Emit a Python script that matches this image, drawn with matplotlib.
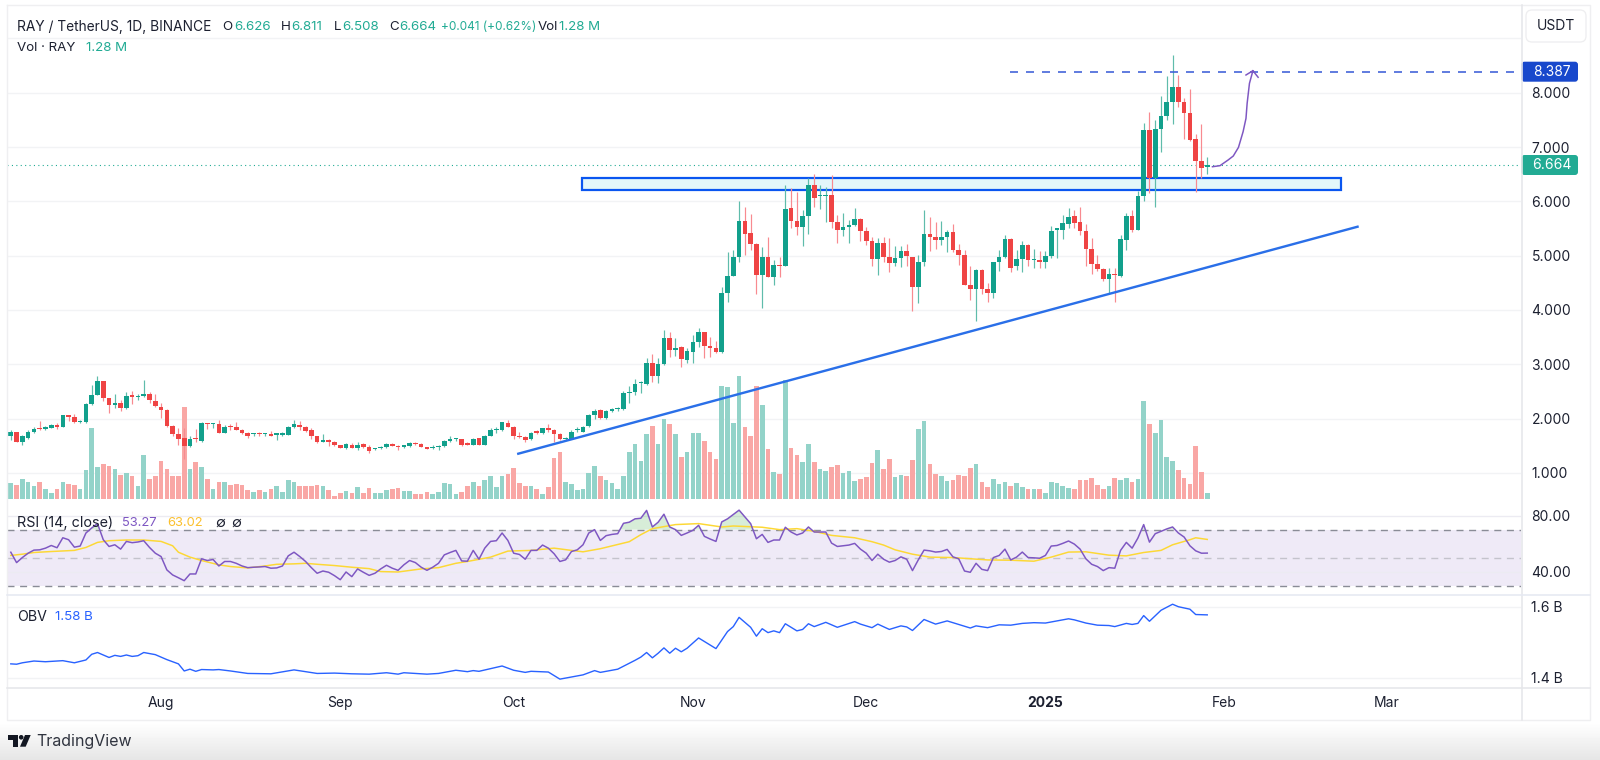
import numpy as np
from matplotlib import pyplot as plt
from matplotlib.patches import Rectangle, FancyBboxPatch, Polygon, Circle

plt.rcParams['font.family'] = ['Inter', 'DejaVu Sans']

#Daily RAY/USDT candles
opens = [1.67,1.76,1.56,1.64,1.75,1.81,1.80,1.83,1.87,1.85,
         2.06,2.03,1.93,1.94,2.26,2.43,2.69,2.38,2.24,2.29,
         2.19,2.41,2.39,2.41,2.45,2.33,2.22,2.16,1.87,1.71,
         1.64,1.49,1.63,1.59,1.92,1.90,1.90,1.74,1.86,1.84,
         1.79,1.73,1.71,1.72,1.71,1.71,1.70,1.70,1.70,1.84,
         1.88,1.85,1.78,1.67,1.57,1.60,1.57,1.51,1.45,1.52,
         1.45,1.53,1.48,1.43,1.45,1.48,1.53,1.49,1.47,1.50,
         1.55,1.53,1.47,1.45,1.47,1.50,1.59,1.62,1.63,1.55,
         1.51,1.64,1.52,1.67,1.78,1.78,1.91,1.85,1.68,1.66,
         1.62,1.75,1.73,1.82,1.78,1.71,1.62,1.63,1.78,1.76,
         1.86,2.06,2.16,2.01,2.14,2.17,2.17,2.47,2.49,2.65,
         2.63,3.02,2.78,3.00,3.49,3.27,3.32,3.08,3.22,3.40,
         3.60,3.34,3.29,3.22,4.32,4.63,4.97,5.64,5.41,5.21,
         4.64,4.97,4.61,4.83,4.80,5.87,5.64,5.52,5.73,6.30,
         6.09,6.10,6.12,5.61,5.48,5.53,5.56,5.68,5.45,5.27,
         4.94,5.24,4.98,4.87,4.95,5.09,4.98,4.43,4.89,5.40,
         5.35,5.29,5.34,5.43,5.10,5.02,4.45,4.38,4.74,4.39,
         4.32,4.88,4.97,5.31,4.80,4.93,5.19,4.91,4.92,4.88,
         5.00,5.48,5.47,5.59,5.73,5.61,5.45,5.13,4.84,4.76,
         4.56,4.66,4.62,5.29,5.73,5.48,6.10,7.32,6.42,7.33,
         7.57,7.82,8.10,7.82,7.62,7.15,6.75,6.626]
highs = [1.78,1.76,1.70,1.78,1.84,1.95,1.86,1.90,1.91,2.07,
         2.07,2.08,1.98,2.28,2.62,2.79,2.69,2.38,2.45,2.35,
         2.49,2.51,2.45,2.71,2.49,2.45,2.28,2.17,1.88,1.82,
         1.82,1.68,1.80,1.94,1.92,1.92,1.97,1.88,1.90,1.94,
         1.81,1.76,1.73,1.76,1.73,1.77,1.71,1.75,1.87,1.97,
         1.95,1.86,1.82,1.68,1.71,1.62,1.58,1.52,1.55,1.55,
         1.57,1.55,1.51,1.45,1.49,1.55,1.54,1.51,1.52,1.57,
         1.56,1.54,1.48,1.51,1.51,1.60,1.68,1.64,1.63,1.57,
         1.64,1.65,1.69,1.83,1.85,1.94,1.98,1.86,1.76,1.68,
         1.75,1.79,1.83,1.89,1.80,1.74,1.66,1.78,1.84,1.86,
         2.09,2.17,2.17,2.16,2.20,2.22,2.51,2.60,2.72,2.70,
         3.11,3.19,3.11,3.63,3.59,3.49,3.33,3.29,3.54,3.66,
         3.60,3.51,3.43,4.43,5.07,5.11,6.00,5.89,5.76,5.23,
         5.15,5.35,4.92,4.97,6.30,6.24,6.18,5.84,6.42,6.50,
         6.30,6.26,6.48,5.75,5.78,5.66,5.88,5.69,5.53,5.35,
         5.33,5.34,5.32,5.18,5.18,5.21,4.98,5.01,5.84,5.72,
         5.62,5.64,5.47,5.58,5.22,5.10,4.81,4.75,4.75,4.50,
         4.89,5.10,5.38,5.32,5.10,5.26,5.21,5.12,5.08,5.09,
         5.54,5.49,5.74,5.87,5.84,5.89,5.59,5.32,5.01,4.78,
         4.78,4.78,5.38,5.79,5.84,6.19,7.45,7.64,7.49,7.94,
         8.31,8.69,8.33,7.90,8.06,7.24,7.42,6.811]
lows = [1.60,1.56,1.51,1.62,1.74,1.79,1.78,1.82,1.81,1.85,
        1.95,1.92,1.92,1.92,2.25,2.43,2.33,2.11,2.19,2.13,
        2.17,2.26,2.35,2.40,2.29,2.22,2.01,1.84,1.68,1.52,
        1.25,1.48,1.57,1.57,1.80,1.82,1.73,1.73,1.78,1.78,
        1.71,1.65,1.68,1.67,1.67,1.67,1.60,1.67,1.69,1.83,
        1.78,1.76,1.62,1.54,1.56,1.49,1.50,1.45,1.43,1.45,
        1.42,1.45,1.36,1.42,1.43,1.46,1.49,1.42,1.46,1.48,
        1.52,1.47,1.43,1.43,1.42,1.48,1.57,1.58,1.50,1.51,
        1.51,1.51,1.51,1.67,1.74,1.77,1.84,1.63,1.65,1.57,
        1.60,1.71,1.72,1.76,1.57,1.60,1.60,1.62,1.76,1.75,
        1.84,1.99,1.99,2.00,2.12,2.13,2.16,2.28,2.43,2.47,
        2.62,2.68,2.66,2.98,3.14,3.15,2.95,3.02,3.03,3.31,
        3.12,3.13,3.21,3.21,4.15,4.62,4.89,5.01,5.10,4.30,
        4.04,4.60,4.46,4.61,4.80,5.50,5.38,5.18,5.39,5.90,
        5.85,5.61,5.50,5.24,5.37,5.24,5.54,5.26,5.19,4.81,
        4.65,4.89,4.69,4.80,4.79,4.80,3.98,4.12,4.81,5.09,
        5.13,5.19,5.07,5.07,4.83,4.45,4.18,3.79,4.29,4.15,
        4.22,4.72,4.95,4.70,4.73,4.70,4.80,4.78,4.77,4.77,
        4.95,4.95,5.30,5.50,5.51,5.38,4.81,4.66,4.72,4.54,
        4.30,4.15,4.61,5.10,5.44,5.48,6.00,6.16,5.90,6.91,
        7.50,7.42,7.73,7.15,7.11,6.18,6.42,6.508]
closes = [1.76,1.56,1.67,1.76,1.81,1.80,1.84,1.88,1.85,2.06,
          2.03,1.94,1.95,2.26,2.43,2.69,2.38,2.24,2.29,2.19,
          2.41,2.40,2.42,2.45,2.34,2.23,2.16,1.86,1.71,1.63,
          1.49,1.62,1.62,1.92,1.90,1.92,1.74,1.84,1.84,1.79,
          1.74,1.68,1.72,1.71,1.72,1.68,1.71,1.73,1.84,1.89,
          1.84,1.77,1.67,1.56,1.60,1.57,1.51,1.45,1.53,1.45,
          1.52,1.47,1.41,1.45,1.48,1.53,1.50,1.47,1.51,1.54,
          1.53,1.48,1.44,1.47,1.49,1.59,1.61,1.63,1.52,1.52,
          1.63,1.52,1.68,1.78,1.80,1.93,1.85,1.68,1.66,1.61,
          1.73,1.74,1.82,1.78,1.72,1.62,1.64,1.75,1.79,1.85,
          2.07,2.14,2.01,2.14,2.17,2.19,2.47,2.49,2.63,2.67,
          3.02,2.78,3.01,3.49,3.26,3.30,3.09,3.24,3.40,3.60,
          3.33,3.29,3.22,4.32,4.63,4.98,5.64,5.40,5.21,4.65,
          4.97,4.61,4.83,4.81,5.86,5.64,5.52,5.73,6.30,6.07,
          6.10,6.12,5.61,5.47,5.53,5.56,5.68,5.45,5.27,4.94,
          5.24,4.98,4.87,4.95,5.09,4.99,4.43,4.89,5.40,5.35,
          5.29,5.34,5.43,5.10,5.02,4.45,4.38,4.74,4.38,4.32,
          4.88,4.97,5.31,4.78,4.94,5.19,4.92,4.92,4.89,5.00,
          5.46,5.49,5.60,5.72,5.60,5.45,5.13,4.84,4.75,4.56,
          4.66,4.64,5.30,5.73,5.48,6.10,7.32,6.42,7.33,7.57,
          7.82,8.10,7.82,7.62,7.13,6.75,6.61,6.664]

#Volume in millions
volumes = [3.41,3.12,4.26,3.83,2.84,3.76,2.13,1.35,2.27,3.62,
           3.34,3.12,2.27,6.18,15.12,6.89,7.53,7.03,6.39,5.25,
           5.68,4.90,2.84,9.37,4.26,4.90,8.17,6.53,4.90,4.90,
           19.67,6.53,7.88,6.82,4.26,2.34,3.76,3.83,3.12,3.34,
           3.12,1.99,1.56,2.06,1.56,2.34,2.77,1.63,4.05,3.76,
           2.77,2.77,2.84,3.12,2.98,1.99,0.64,1.35,1.85,1.49,
           2.63,1.35,2.49,1.35,1.42,1.99,2.13,2.49,1.78,1.85,
           1.07,1.07,1.56,1.07,1.70,3.55,3.27,1.21,1.70,2.84,
           3.62,2.84,4.12,5.11,2.70,4.97,5.33,6.75,3.55,2.84,
           2.98,2.13,1.21,2.63,8.80,10.08,3.69,3.27,1.99,2.34,
           5.61,7.10,4.90,4.12,3.41,2.34,5.04,10.08,11.86,8.17,
           13.99,15.55,11.86,17.11,16.05,13.85,9.09,10.08,14.06,14.13,
           12.50,10.08,8.73,24.07,24.00,16.19,26.20,15.41,13.42,24.21,
           20.16,10.72,5.96,5.40,25.35,10.86,9.44,7.88,11.72,8.02,
           6.39,6.04,6.89,7.31,5.54,6.04,3.91,4.26,4.76,7.67,
           10.51,6.60,8.66,4.76,5.18,5.11,8.45,14.91,16.76,7.53,
           5.40,5.11,3.91,4.12,5.25,4.97,6.67,7.46,3.76,2.63,
           4.40,3.27,3.62,2.77,3.48,2.63,2.13,2.20,2.13,1.35,
           3.62,3.48,2.77,2.41,2.27,4.12,4.12,4.62,3.05,2.27,
           2.84,4.62,4.05,4.62,3.76,4.26,21.02,16.05,14.20,16.90,
           9.02,8.24,6.18,4.62,3.20,11.36,5.89,1.28]

rsi = [53.9,46.5,50.1,53.2,55.4,55.6,56.8,58.7,57.1,64.2,
       62.8,57.5,58.3,67.6,71.2,74.3,62.8,58.0,59.2,56.1,
       61.6,60.7,61.2,62.1,57.3,53.2,50.8,41.3,37.7,35.7,
       33.6,38.4,38.4,49.2,48.0,48.7,44.1,47.3,47.3,46.0,
       44.1,42.9,43.2,43.4,43.7,42.5,42.7,44.1,51.3,53.9,
       50.8,47.3,42.9,38.9,40.5,39.6,37.2,34.3,39.8,36.5,
       42.0,39.6,37.4,38.9,42.0,44.6,42.5,41.0,44.9,48.0,
       46.5,43.2,41.0,43.2,46.0,52.0,53.7,55.2,47.7,47.5,
       55.2,48.9,56.8,61.6,62.1,67.6,62.3,53.2,52.3,48.9,
       55.2,55.2,59.0,56.8,52.8,47.3,48.5,54.4,55.6,59.2,
       67.6,70.0,62.3,65.7,66.6,67.1,74.5,75.3,77.7,78.1,
       83.7,71.9,75.3,81.0,71.9,70.0,65.9,67.6,69.5,73.1,
       65.2,63.3,61.6,75.5,77.7,80.8,83.9,79.1,74.3,63.5,
       66.6,60.9,62.6,62.6,71.7,68.3,66.2,67.6,71.9,68.3,
       68.3,68.3,60.4,58.0,58.5,59.0,60.2,56.1,53.2,48.0,
       52.5,48.9,46.8,48.0,50.6,48.9,40.8,48.4,55.4,54.9,
       54.0,54.4,55.9,50.6,49.2,40.5,39.6,46.0,41.7,40.8,
       50.1,51.6,56.1,48.4,50.4,54.0,50.1,49.9,49.6,51.6,
       58.3,58.7,60.2,61.9,59.7,56.1,49.2,45.3,43.7,40.8,
       42.9,42.5,55.2,60.9,56.8,64.0,73.6,61.1,67.1,68.8,
       70.5,71.9,67.6,64.7,58.5,54.9,53.2,53.27]

rsiMaDays = [0,2,4,7,11,13,15,17,20,23,26,28,29,31,33,36,38,41,44,46,49,51,53,56,59,62,64,67,
             71,74,77,79,83,86,90,94,97,99,102,107,109,111,115,119,123,125,130,133,136,
             139,142,146,149,151,153,156,159,163,169,173,177,180,183,186,190,193,196,199,201,204,205,207]
rsiMa = [51.6,52.5,53.7,54.4,55.2,57.3,60.9,62.1,62.6,62.6,61.6,58.5,53.9,50.4,48.0,44.9,43.7,42.7,44.1,45.3,45.6,46.0,45.3,44.4,43.2,42.2,40.1,39.8,
         42.0,42.9,46.0,47.3,50.4,54.7,55.2,56.8,55.2,54.2,56.4,61.4,66.4,70.7,73.6,74.3,71.9,72.6,71.7,70.0,70.7,
         68.8,65.9,64.2,61.4,59.0,55.6,52.5,50.4,50.1,48.4,48.2,47.5,50.4,54.0,54.2,51.8,51.3,53.7,55.2,59.2,62.8,64.2,63.02]

obvDays = [0,1,2,4,6,9,11,13,14,15,17,18,19,20,21,22,23,25,27,29,30,31,32,33,35,36,38,41,45,49,53,56,59,62,65,67,
           68,72,74,77,79,80,81,85,87,89,90,93,95,99,101,102,105,108,109,110,111,112,113,114,115,116,117,119,122,124,125,126,128,129,130,131,132,133,134,136,
           137,138,139,141,143,146,147,149,150,152,154,155,156,158,160,162,166,167,169,171,173,175,177,179,181,183,184,186,188,190,191,193,194,195,196,197,199,201,202,204,205,207]
obv = [1.439,1.438,1.442,1.447,1.445,1.448,1.442,1.450,1.466,1.471,1.457,1.463,1.460,1.464,1.460,1.462,1.471,1.465,1.451,1.439,1.419,1.424,1.418,1.423,1.422,1.423,1.419,1.412,1.411,1.422,1.412,1.413,1.411,1.410,1.414,1.410,
       1.414,1.410,1.412,1.421,1.417,1.420,1.418,1.433,1.421,1.415,1.418,1.416,1.396,1.408,1.420,1.415,1.424,1.449,1.458,1.471,1.456,1.469,1.484,1.469,1.483,1.473,1.483,1.512,1.482,1.530,1.544,1.570,1.542,1.517,1.538,1.527,1.532,1.527,1.552,1.532,
       1.536,1.552,1.544,1.556,1.542,1.558,1.551,1.541,1.551,1.536,1.546,1.543,1.533,1.564,1.551,1.560,1.540,1.546,1.541,1.549,1.548,1.553,1.555,1.554,1.560,1.566,1.563,1.554,1.548,1.547,1.544,1.553,1.550,1.553,1.575,1.559,1.590,1.607,1.600,1.593,1.578,1.577]

priceTicks = [1, 2, 3, 4, 5, 6, 7, 8]
priceGrid = [1, 2, 3, 4, 5, 6, 7, 8, 9]
rsiTicks = [80, 40]
obvTicks = [1.6, 1.4]
monthDays = [26, 57, 87, 118, 148, 179, 210, 238]
monthLabels = ['Aug', 'Sep', 'Oct', 'Nov', 'Dec', '2025', 'Feb', 'Mar']
lastPrice = 6.664
targetPrice = 8.387

#Hand drawn things on the chart (day index, price)
zoneDays = [98.9, 230.1]
zonePrices = [6.217, 6.435]
trendDays = [87.8, 233.0]
trendPrices = [1.352, 5.532]
curveDays = [207.9, 209.2, 210.6, 211.5, 212.4, 213.2, 213.7, 213.9, 214.3, 214.9]
curvePrices = [6.637, 6.656, 6.760, 6.834, 6.993, 7.282, 7.527, 7.804, 8.172, 8.405]
headDays = [213.7, 214.9, 215.8]
headPrices = [8.326, 8.405, 8.284]

GREEN = '#12a08c'
RED = '#ef4444'
TEAL = '#22ab94'
PURPLE = '#7e57c2'
YELLOW = '#fdd835'
BLUE = '#2962ff'
GRID = '#f2f3f5'
TEXT = '#1c2030'
LINE = '#e6e7ea'
W, H = 1600, 760
PX = 0.72  #one pixel in points at dpi 100


def paneAxes(top, bottom, zorder):
    """Axes placed by pixel rows, from the left frame to the price scale"""
    pane = fig.add_axes([7 / W, 1 - bottom / H, (1521 - 7) / W, (bottom - top) / H], zorder = zorder)
    pane.set_facecolor('none')
    pane.set_xlim(-0.657, 261.28)
    for side in pane.spines.values():
        side.set_visible(False)
    pane.set_xticks([])
    pane.yaxis.tick_right()
    pane.tick_params(axis = 'y', length = 0, pad = 7.5, labelsize = 10, labelcolor = TEXT)
    return pane


fig = plt.figure(figsize = (W / 100, H / 100), dpi = 100, facecolor = 'white')

#Page background with the grey fade at the bottom
back = fig.add_axes([0, 0, 1, 1], zorder = 0)
back.set_xlim(0, W)
back.set_ylim(H, 0)
back.axis('off')
fade = np.ones((H, 1))
fade[722:, 0] = np.linspace(1.0, 0.9, H - 722)
back.imshow(fade, cmap = 'gray', vmin = 0, vmax = 1, extent = (0, W, H, 0), aspect = 'auto')

days = np.arange(len(closes))
opensArr = np.array(opens)
closesArr = np.array(closes)
isUp = closesArr >= opensArr

#Price gridlines go under the volume bars
axGrid = paneAxes(5, 501, 0.5)
axGrid.set_ylim(0.481, 9.615)
axGrid.set_yticks([])
axGrid.hlines(priceGrid, -1, 262, color = GRID, linewidth = 1.4 * PX)

#Volume sits under the candles in the same pane
axVol = paneAxes(5, 501, 1)
axVol.set_ylim(-0.32, 105.3)
axVol.set_yticks([])
axVol.bar(days, volumes, width = 0.8,
          color = np.where(isUp, '#93d3c9', '#f9a7a5'), linewidth = 0)

#Candles
ax = paneAxes(5, 501, 2)
ax.set_ylim(0.481, 9.615)
ax.set_yticks(priceTicks, [f'{p:.3f}' for p in priceTicks])
ax.add_patch(Rectangle((zoneDays[0], zonePrices[0]), zoneDays[1] - zoneDays[0], zonePrices[1] - zonePrices[0],
                       facecolor = '#e3f7fa', edgecolor = '#0a56f0', linewidth = 2.2 * PX, zorder = 1))
ax.axhline(lastPrice, color = TEAL, linewidth = 1.1 * PX, linestyle = (0, (1, 3)), zorder = 1)
ax.vlines(days, lows, highs, color = np.where(isUp, '#5fbcab', '#f88a90'), linewidth = 1.2 * PX, zorder = 3)
ax.bar(days, np.maximum(np.abs(closesArr - opensArr), 0.025), bottom = np.minimum(opensArr, closesArr),
       width = 0.8, color = np.where(isUp, GREEN, RED), linewidth = 0, zorder = 4)
ax.plot(trendDays, trendPrices, color = '#2a6fe8', linewidth = 2.4 * PX, zorder = 5)
ax.plot([172.9, 261.28], [targetPrice, targetPrice], color = '#3d5fd8', linewidth = 1.6 * PX,
        linestyle = (0, (5, 5)), zorder = 5)
ax.plot(curveDays, curvePrices, color = PURPLE, linewidth = 1.5 * PX, zorder = 6)
ax.plot(headDays, headPrices, color = PURPLE, linewidth = 1.5 * PX, zorder = 6)

#RSI pane
axRsi = paneAxes(502, 594.3, 3)
axRsi.set_ylim(23.9, 89.7)
axRsi.set_yticks(rsiTicks, [f'{r:.2f}' for r in rsiTicks])
axRsi.axhspan(30, 70, color = PURPLE, alpha = 0.12, linewidth = 0, zorder = 0)
axRsi.hlines(rsiTicks, -1, 262, color = '#ecebf2', linewidth = 1.4 * PX, zorder = 1)
axRsi.axhline(70, color = '#8a8c96', linewidth = 1.4 * PX, linestyle = (0, (5, 4)), zorder = 2)
axRsi.axhline(30, color = '#8a8c96', linewidth = 1.4 * PX, linestyle = (0, (5, 4)), zorder = 2)
axRsi.axhline(50, color = '#c4c3cc', linewidth = 1.4 * PX, linestyle = (0, (5, 4)), zorder = 2)
axRsi.fill_between(days, 70, rsi, where = np.array(rsi) > 70, interpolate = True,
                   color = '#4caf50', alpha = 0.22, linewidth = 0, zorder = 2)
axRsi.plot(rsiMaDays, rsiMa, color = YELLOW, linewidth = 1.5 * PX, zorder = 3)
axRsi.plot(days, rsi, color = PURPLE, linewidth = 1.5 * PX, zorder = 4)

#OBV pane
axObv = paneAxes(595, 688, 3)
axObv.set_ylim(1.371, 1.633)
axObv.set_yticks(obvTicks, [f'{o:.1f} B' for o in obvTicks])
axObv.hlines(obvTicks, -1, 262, color = GRID, linewidth = 1.4 * PX, zorder = 1)
axObv.plot(obvDays, obv, color = BLUE, linewidth = 1.4 * PX, zorder = 3)

#Time scale, labels pulled up inside the strip
axTime = paneAxes(688, 720, 3)
axTime.set_ylim(0, 1)
axTime.set_yticks([])
axTime.set_xticks(monthDays, monthLabels)
axTime.tick_params(axis = 'x', length = 0, pad = -17, labelsize = 10, labelcolor = TEXT)
axTime.get_xticklabels()[5].set_fontweight('bold')

#Overlay in pixel coordinates: frame, legends, price tags, logo
top = fig.add_axes([0, 0, 1, 1], zorder = 10)
top.set_facecolor('none')
top.set_xlim(0, W)
top.set_ylim(H, 0)
top.axis('off')

top.plot([7, 1590, 1590, 7, 7], [5, 5, 720, 720, 5], color = '#efeff1', linewidth = 1.4 * PX)
top.plot([1521.5, 1521.5], [5, 720], color = LINE, linewidth = 1.6 * PX)
top.plot([7, 1590], [594.5, 594.5], color = '#e6e9f2', linewidth = 1.6 * PX)
top.plot([7, 1590], [688, 688], color = LINE, linewidth = 1.6 * PX)

top.add_patch(FancyBboxPatch((1528, 12), 56, 28, boxstyle = 'round,pad=2,rounding_size=6',
                             facecolor = 'white', edgecolor = '#eeeef0', linewidth = 1.3 * PX))
top.text(1555.7, 25.7, 'USDT', ha = 'center', va = 'center', fontsize = 10, color = TEXT)

for tagY, tagColor, tagValue in [(71.7, '#1848cc', targetPrice), (165, TEAL, lastPrice)]:
    top.add_patch(FancyBboxPatch((1523, tagY - 8.5), 53.5, 17, boxstyle = 'round,pad=1.5,rounding_size=3',
                                 facecolor = tagColor, edgecolor = 'none'))
    top.text(1551.7, tagY, f'{tagValue:.3f}', ha = 'center', va = 'center', fontsize = 10, color = 'white')


def putText(x, y, text, color = TEXT, size = 9.6):
    top.text(x, y, text, ha = 'left', va = 'center', fontsize = size, color = color)


putText(17.3, 27, 'RAY / TetherUS, 1D, BINANCE', size = 9.9)
for labelX, label, valueX, value in [(222.5, 'O', 234, '6.626'), (281, 'H', 291.5, '6.811'),
                                     (334, 'L', 342.3, '6.508'), (389, 'C', 399.5, '6.664')]:
    putText(labelX, 27, label)
    putText(valueX, 27, value, TEAL)
putText(441, 27, '+0.041 (+0.62%)', TEAL, 8.5)
putText(538, 27, 'Vol')
putText(559, 27, '1.28 M', TEAL)
putText(17.3, 48, 'Vol · RAY')
putText(86, 48, '1.28 M', TEAL)
putText(17.3, 522.7, 'RSI (14, close)', size = 10.3)
putText(121.7, 522.7, '53.27', PURPLE, 9.3)
putText(167.3, 522.7, '63.02', '#fbc02d', 9.3)
putText(215, 522.7, '∅', size = 10.5)
putText(231, 522.7, '∅', size = 10.5)
putText(17.3, 616.7, 'OBV', size = 10.2)
putText(55, 616.7, '1.58 B', BLUE)

#TradingView mark
top.add_patch(Polygon([(8, 735), (18, 735), (18, 746.7), (13, 746.7), (13, 739.6), (8, 739.6)], color = '#131722', linewidth = 0))
top.add_patch(Circle((21.2, 737.3), 2.3, color = '#131722', linewidth = 0))
top.add_patch(Polygon([(25, 735), (30.7, 735), (25.7, 746.7), (20, 746.7)], color = '#131722', linewidth = 0))
top.text(36, 741.7, 'TradingView', ha = 'left', va = 'center', fontsize = 11.5, color = '#30343f')

fig.savefig('out.png', dpi = 100)
